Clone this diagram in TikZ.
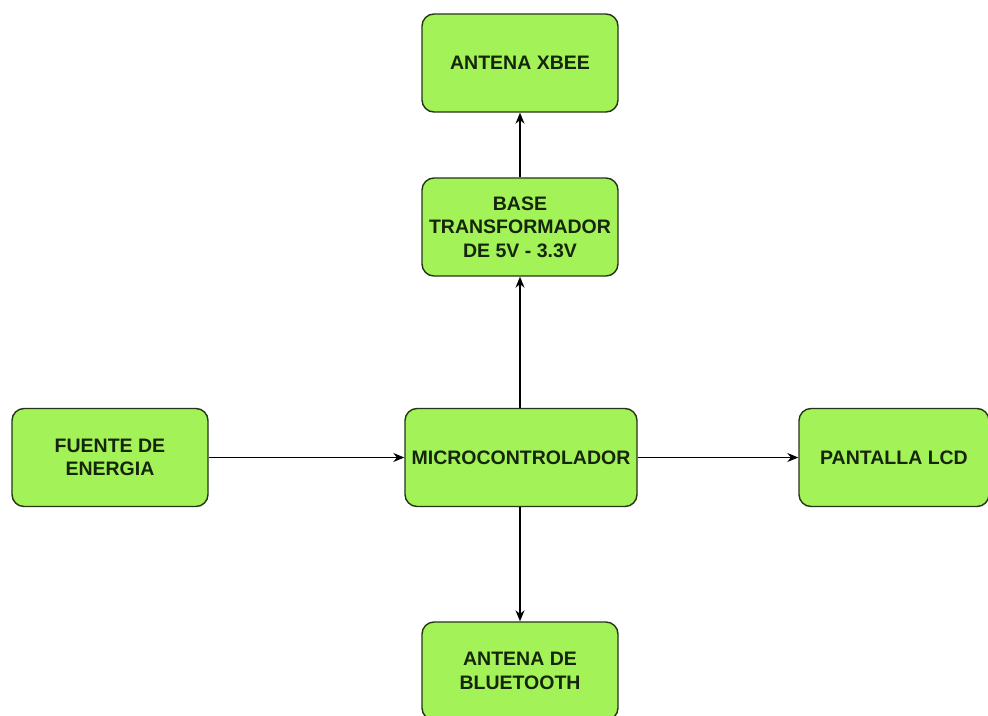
\documentclass[tikz,border=0pt]{standalone}
\usepackage{fontspec}
\setmainfont{Liberation Sans}
\usetikzlibrary{arrows.meta}
\definecolor{boxfill}{RGB}{162,242,88}
\definecolor{boxline}{RGB}{38,52,24}
\definecolor{boxtext}{RGB}{22,38,12}
\begin{document}
\begin{tikzpicture}[x=1pt,y=-1pt,
  block/.style={draw=boxline, fill=boxfill, line width=1.4pt, rounded corners=12pt,
    minimum width=#1, minimum height=98pt, inner sep=2pt, align=center,
    text=boxtext, font=\fontsize{19.5}{23.5}\selectfont\bfseries},
  block/.default=196pt,
  link/.style={draw=black, line width=1.2pt, -{Stealth[length=11pt,width=9pt]}}]
\useasboundingbox (0,0) rectangle (988,715);
\fill[white] (0,0) rectangle (988,715);

\node[block] (xbee) at (520,63) {ANTENA XBEE};
\node[block] (base) at (520,227) {BASE\\TRANSFORMADOR\\DE 5V - 3.3V};
\node[block] (fuente) at (110,457.5) {FUENTE DE\\ENERGIA};
\node[block=232pt] (micro) at (521,457.5) {MICROCONTROLADOR};
\node[block=190pt] (lcd) at (894,457.5) {PANTALLA LCD};
\node[block] (bt) at (520,671) {ANTENA DE\\BLUETOOTH};

\draw[link] (micro.north -| base.south) -- (base.south);
\draw[link] (base) -- (xbee);
\draw[link] (fuente) -- (micro);
\draw[link] (micro) -- (lcd);
\draw[link] (micro.south -| bt.north) -- (bt.north);
\end{tikzpicture}
\end{document}
